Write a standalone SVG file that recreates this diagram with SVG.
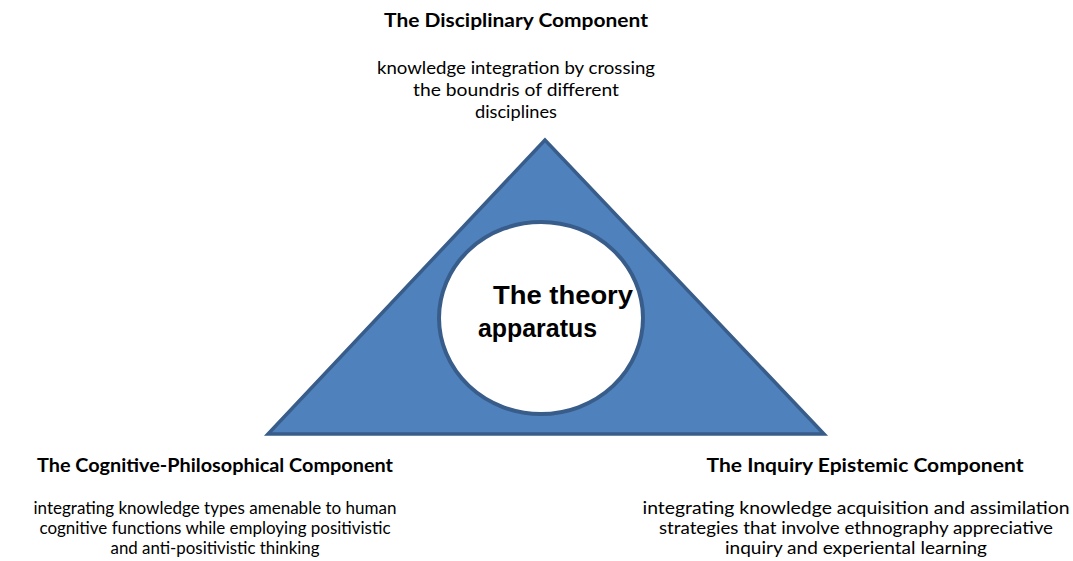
<svg xmlns="http://www.w3.org/2000/svg" width="1073" height="561" viewBox="0 0 1073 561">
<style>
.h{font-family:Lato,"Open Sans","Liberation Sans",sans-serif;font-weight:bold;font-size:18px;fill:#000;text-anchor:middle}
.d{font-family:Lato,"Open Sans","Liberation Sans",sans-serif;font-size:17px;fill:#000;text-anchor:middle}
.c{font-family:"Liberation Sans",Arial,sans-serif;font-weight:bold;font-size:25px;fill:#000}
</style>
<rect width="1073" height="561" fill="#fff"/>
<g id="triangle">
<polygon points="545,140 268,434 824,434" fill="#4F81BD" stroke="#385D8A" stroke-width="3.5" stroke-linejoin="miter"/>
</g>
<g id="center">
<ellipse cx="541" cy="318" rx="102" ry="96" fill="#fff" stroke="#385D8A" stroke-width="4"/>
<text class="c" x="493" y="304" textLength="140" lengthAdjust="spacingAndGlyphs">The theory</text>
<text class="c" x="478" y="337" textLength="119" lengthAdjust="spacingAndGlyphs">apparatus</text>
</g>
<g id="top">
<text class="h" x="516" y="27" textLength="264" lengthAdjust="spacingAndGlyphs">The Disciplinary Component</text>
<text class="d" x="516" y="74" textLength="278" lengthAdjust="spacingAndGlyphs">knowledge integration by crossing</text>
<text class="d" x="516" y="96" textLength="206" lengthAdjust="spacingAndGlyphs">the boundris of different</text>
<text class="d" x="516" y="118" textLength="82" lengthAdjust="spacingAndGlyphs">disciplines</text>
</g>
<g id="left">
<text class="h" x="215" y="472" textLength="356" lengthAdjust="spacingAndGlyphs">The Cognitive-Philosophical Component</text>
<text class="d" x="215" y="514" textLength="363" lengthAdjust="spacingAndGlyphs">integrating knowledge types amenable to human</text>
<text class="d" x="215" y="534" textLength="351" lengthAdjust="spacingAndGlyphs">cognitive functions while employing positivistic</text>
<text class="d" x="215" y="554" textLength="209" lengthAdjust="spacingAndGlyphs">and anti-positivistic thinking</text>
</g>
<g id="right">
<text class="h" x="865" y="472" textLength="317" lengthAdjust="spacingAndGlyphs">The Inquiry Epistemic Component</text>
<text class="d" x="856" y="514" textLength="427" lengthAdjust="spacingAndGlyphs">integrating knowledge acquisition and assimilation</text>
<text class="d" x="856" y="534" textLength="394" lengthAdjust="spacingAndGlyphs">strategies that involve ethnography appreciative</text>
<text class="d" x="856" y="554" textLength="262" lengthAdjust="spacingAndGlyphs">inquiry and experiental learning</text>
</g>
<g id="connectors"/>
</svg>
